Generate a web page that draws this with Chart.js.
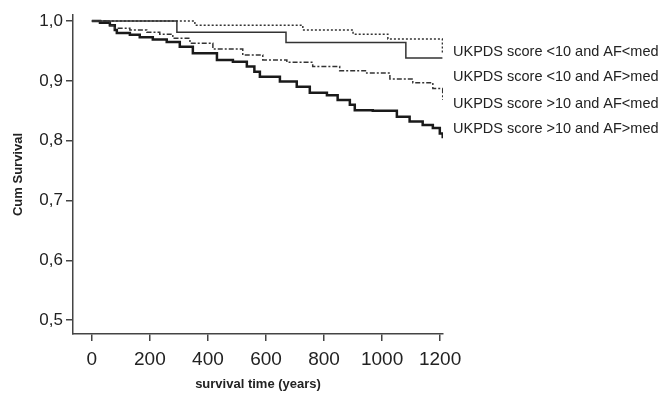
<!DOCTYPE html>
<html lang="en">
<head>
  <meta charset="UTF-8">
  <title>Cum Survival</title>
  <script src="https://cdn.jsdelivr.net/npm/chart.js"></script>
  <style>
    html, body { margin: 0; padding: 0; background: #fff; }
    #wrap { width: 660px; height: 394px; }
  </style>
</head>
<body>
  <div id="wrap"><canvas id="survivalChart"></canvas></div>

  <script>
    // group labels as printed beside the curves
    const groupNames = [
      'UKPDS score <10 and AF<med',
      'UKPDS score <10 and AF>med',
      'UKPDS score >10 and AF<med',
      'UKPDS score >10 and AF>med'
    ];

    // step curves: time of each drop and survival after it
    const timesA = [0, 293, 669, 1082, 1208];
    const survA  = [1.0, 0.981, 0.964, 0.938, 0.938];

    const timesB = [0, 355, 727, 900, 1020, 1208];
    const survB  = [1.0, 0.993, 0.985, 0.978, 0.970, 0.945];

    const timesC = [0, 62, 79, 131, 189, 234, 279, 338, 417, 520, 589, 672, 761, 854, 947, 1027, 1106, 1175, 1209];
    const survC  = [1.0, 0.992, 0.988, 0.985, 0.981, 0.978, 0.971, 0.963, 0.953, 0.943, 0.935, 0.931, 0.924, 0.917, 0.913, 0.903, 0.897, 0.887, 0.868];

    const timesD = [0, 28, 62, 79, 86, 131, 165, 210, 258, 303, 348, 431, 486, 534, 560, 579, 648, 706, 751, 810, 847, 889, 906, 968, 1051, 1095, 1140, 1175, 1199, 1209];
    const survD  = [1.0, 0.997, 0.993, 0.985, 0.980, 0.977, 0.973, 0.969, 0.965, 0.957, 0.946, 0.935, 0.932, 0.924, 0.915, 0.907, 0.899, 0.890, 0.880, 0.876, 0.868, 0.860, 0.851, 0.850, 0.840, 0.832, 0.826, 0.821, 0.812, 0.804];

    const xTicks = [0, 200, 400, 600, 800, 1000, 1200];
    const yTicks = [0.5, 0.6, 0.7, 0.8, 0.9, 1.0];

    function pts(ts, ss) {
      return ts.map((t, i) => ({ x: t, y: ss[i] }));
    }

    // labels on the right, drawn as plain text
    const sideLabels = {
      id: 'sideLabels',
      afterDraw(chart) {
        const ctx = chart.ctx;
        const ys = [52, 77, 104, 129];
        ctx.save();
        ctx.font = '14.5px "Liberation Sans", Arial, sans-serif';
        ctx.fillStyle = '#222';
        ctx.textBaseline = 'middle';
        ctx.textAlign = 'left';
        groupNames.forEach((name, i) => ctx.fillText(name, 453, ys[i]));
        ctx.restore();
      }
    };

    const ctx = document.getElementById('survivalChart').getContext('2d');
    new Chart(ctx, {
      type: 'line',
      data: {
        datasets: [
          { label: groupNames[0], data: pts(timesA, survA), borderColor: '#333', borderWidth: 1.5 },
          { label: groupNames[1], data: pts(timesB, survB), borderColor: '#333', borderWidth: 1.5, borderDash: [2, 2] },
          { label: groupNames[2], data: pts(timesC, survC), borderColor: '#333', borderWidth: 1.5, borderDash: [5, 2, 2, 2] },
          { label: groupNames[3], data: pts(timesD, survD), borderColor: '#1a1a1a', borderWidth: 2.5 }
        ]
      },
      options: {
        responsive: true,
        maintainAspectRatio: false,
        animation: false,
        layout: { padding: { top: 15, right: 217, left: 0, bottom: 0 } },
        elements: {
          line: { stepped: 'before', tension: 0, fill: false },
          point: { radius: 0 }
        },
        plugins: {
          legend: { display: false },
          tooltip: { enabled: false }
        },
        scales: {
          x: {
            type: 'linear',
            min: -65,
            max: 1210,
            afterBuildTicks: (s) => { s.ticks = xTicks.map(v => ({ value: v })); },
            afterFit: (s) => { s.height = 60; },
            grid: { drawOnChartArea: false, drawTicks: true, tickLength: 7, color: '#444', lineWidth: 1.5 },
            border: { display: true, color: '#444', width: 1.5 },
            ticks: {
              color: '#222',
              padding: 7,
              maxRotation: 0,
              font: { family: '"Liberation Sans", Arial, sans-serif', size: 19 },
              callback: (v) => String(v)
            },
            title: {
              display: true,
              text: 'survival time (years)',
              color: '#222',
              padding: { top: 0, bottom: 1.5 },
              font: { family: '"Liberation Sans", Arial, sans-serif', size: 13, weight: 'bold' }
            }
          },
          y: {
            min: 0.477,
            max: 1.01,
            afterBuildTicks: (s) => { s.ticks = yTicks.map(v => ({ value: v })); },
            afterFit: (s) => { s.width = 73; },
            grid: { drawOnChartArea: false, drawTicks: true, tickLength: 7, color: '#444', lineWidth: 1.5 },
            border: { display: true, color: '#444', width: 1.5 },
            ticks: {
              color: '#222',
              padding: 3,
              font: { family: '"Liberation Sans", Arial, sans-serif', size: 17 },
              callback: (v) => v.toFixed(1).replace('.', ',')
            },
            title: {
              display: true,
              text: 'Cum Survival',
              color: '#222',
              padding: { top: 11, bottom: 0 },
              font: { family: '"Liberation Sans", Arial, sans-serif', size: 13, weight: 'bold' }
            }
          }
        }
      },
      plugins: [sideLabels]
    });
  </script>
</body>
</html>
